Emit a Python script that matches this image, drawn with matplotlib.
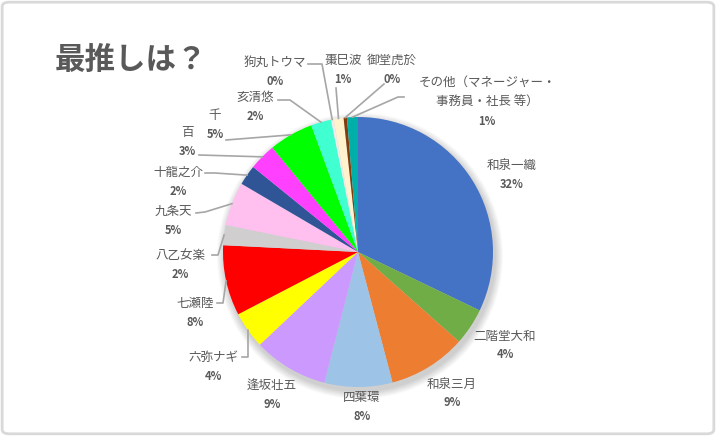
import matplotlib
matplotlib.use("Agg")
import numpy as np
import matplotlib.pyplot as plt
from matplotlib.patches import FancyBboxPatch, Circle

plt.rcParams['font.family'] = ['Noto Sans CJK JP', 'DejaVu Sans']

# vote data (shares in %)
names = ['和泉一織', '二階堂大和', '和泉三月', '四葉環', '逢坂壮五', '六弥ナギ', '七瀬陸',
         '八乙女楽', '九条天', '十龍之介', '百', '千', '亥清悠', '狗丸トウマ', '棗巳波',
         '御堂虎於', 'その他（マネージャー・\n事務員・社長 等）']
shares = [32.0, 4.4, 9.3, 8.1, 8.9, 4.4, 8.4, 2.4, 5.2, 2.4, 3.2, 5.3, 2.4, 0.3, 1.2, 0.4, 1.3]
pct_labels = ['32%', '4%', '9%', '8%', '9%', '4%', '8%', '2%', '5%', '2%', '3%', '5%', '2%',
              '0%', '1%', '0%', '1%']
colors = ['#4472C4', '#70AD47', '#ED7D31', '#9DC3E6', '#CC99FF', '#FFFF00', '#FF0000',
          '#D0CECE', '#FFBFEF', '#2F5597', '#FF40FF', '#00FF00', '#40FFD0', '#EDEDED',
          '#FFF2CC', '#843C0C', '#00B0A8']

W, H = 716, 436
CX, CY, R = 358, 252, 135
TXT = '#595959'
LINE = '#A6A6A6'

# label placement in pixel coords (x, y of first name line) and leader start
label_pos = [(512, 165), (505, 336), (452, 384), (362, 398), (272, 385), (213, 357),
             (195, 303), (180, 255), (173, 211), (178, 172), (187, 132), (215, 115),
             (255, 97), (275, 62), (343, 60), (392, 60), (487, 82)]
leader = [None, None, None, None, None, [(242, 357), (248, 357)],
          [(217, 303), (223, 303)], [(212, 255), (218, 255)], [(196, 213), (205, 212)],
          [(205, 173), (215, 173)], [(199, 155)], [(226, 140)],
          [(278, 100), (290, 100)], [(308, 64), (322, 64)], [(336, 88)],
          [(384, 84)], [(404, 97), (398, 97)]]

fig = plt.figure(figsize=(W / 100, H / 100), dpi=100)
ax = fig.add_axes([0, 0, 1, 1])


def py(y):
    return H - y


# soft shadow under pie
for k in range(8):
    ax.add_patch(Circle((CX + 2, py(CY) - 4), R + 8 - k, color='#000000', alpha=0.025,
                        linewidth=0, zorder=1))

wedges, _ = ax.pie(shares, colors=colors, startangle=90, counterclock=False,
                   center=(CX, py(CY)), radius=R, frame=True,
                   wedgeprops=dict(linewidth=0))
for w in wedges:
    w.set_zorder(2)
ax.set_xlim(0, W)
ax.set_ylim(0, H)
ax.axis('off')

for i, w in enumerate(wedges):
    x, y = label_pos[i]
    lines = names[i].split('\n')
    for j, line in enumerate(lines):
        ax.text(x, py(y + 20 * j), line, ha='center', va='center', fontsize=9, color=TXT,
                zorder=5)
    ax.text(x, py(y + 20 * len(lines) - 1), pct_labels[i], ha='center', va='center',
            fontsize=8, fontweight='bold', color=TXT, zorder=5)
    if leader[i] is not None:
        mid = np.deg2rad((w.theta1 + w.theta2) / 2)
        ex = CX + R * np.cos(mid)
        ey = py(CY) + R * np.sin(mid)
        xs = [p[0] for p in leader[i]] + [ex]
        ys = [py(p[1]) for p in leader[i]] + [ey]
        ax.plot(xs, ys, color=LINE, linewidth=1.2, zorder=3)

ax.text(55, py(60), '最推しは？', ha='left', va='center', fontsize=22, fontweight='bold',
        color=TXT)

# frame
fig.patches.append(FancyBboxPatch((0.003, 0.005), 0.994, 0.99,
                                  boxstyle='round,pad=0,rounding_size=0.01',
                                  transform=fig.transFigure, facecolor='none',
                                  edgecolor='#D9D9D9', linewidth=2, zorder=10))

fig.savefig('out.png', dpi=100)
